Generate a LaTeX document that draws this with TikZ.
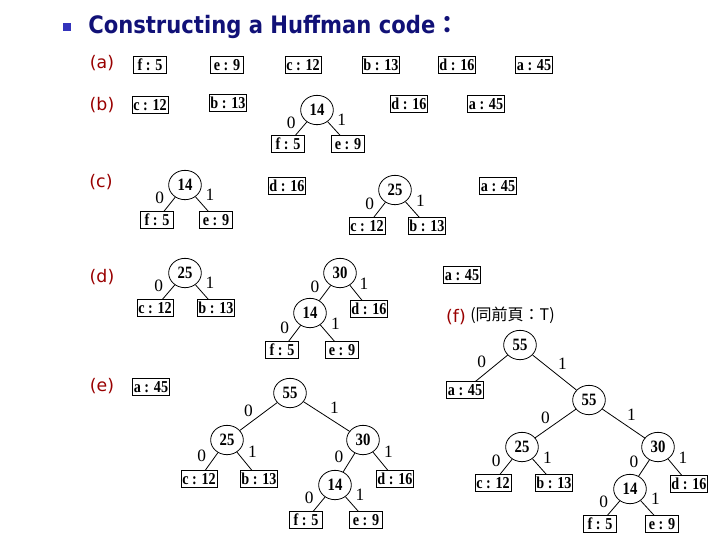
\documentclass[tikz,border=0pt]{standalone}
\usepackage{fontspec}
\setmainfont{Liberation Serif}
\newfontfamily\headfont[FakeStretch=0.88]{DejaVu Sans}
\newfontfamily\tagfont{DejaVu Sans}
\newfontfamily\cjkfont{Noto Sans CJK TC}
\newfontfamily\keyfont[FakeStretch=0.85]{Liberation Serif}
\usetikzlibrary{shapes.geometric}

\definecolor{titleblue}{RGB}{17,17,119}
\definecolor{bulletblue}{RGB}{51,51,187}
\definecolor{tagred}{RGB}{153,0,0}

\begin{document}
\begin{tikzpicture}[x=0.75pt, y=-0.75pt,
  freq/.style={draw, line width=0.6pt, minimum width=25pt, minimum height=12.5pt,
    inner xsep=1pt, inner ysep=1pt, font=\keyfont\bfseries\fontsize{12.5}{12.5}\selectfont},
  merged/.style={ellipse, draw, line width=0.6pt, minimum width=24.5pt,
    minimum height=22pt, inner sep=0pt, font=\keyfont\bfseries\fontsize{13}{13}\selectfont},
  branch/.style={line width=0.6pt},
  bit0/.style={midway, xshift=-7.5pt, yshift=4.5pt, inner sep=0pt,
    font=\fontsize{13}{13}\selectfont},
  bit1/.style={midway, xshift=6pt, yshift=6.75pt, inner sep=0pt,
    font=\fontsize{13}{13}\selectfont},
  parttag/.style={text=tagred, font=\tagfont\fontsize{13}{15}\selectfont}]
\useasboundingbox (0,0) rectangle (720,540);

% Heading
\fill[bulletblue] (63,23) rectangle (71,31);
\node[anchor=base west, inner sep=0pt, text=titleblue,
  font=\headfont\bfseries\fontsize{18}{20}\selectfont] (head) at (88,33)
  {Constructing a Huffman code{\cjkfont ：}};

% Step labels
\node[parttag] (tga) at (102,63) {(a)};
\node[parttag] (tgb) at (102,105) {(b)};
\node[parttag] (tgc) at (101,182) {(c)};
\node[parttag] (tgd) at (102,277) {(d)};
\node[parttag] (tge) at (102,386) {(e)};
\node[parttag] (tgf) at (456,317) {(f)};
\node[anchor=west, inner sep=0pt, font=\cjkfont\fontsize{12}{14}\selectfont]
  (tgfnote) at (470,315) {(同前頁：T)};

% (a) initial queue
\node[freq] (af) at (150,65) {f : 5};
\node[freq] (ae) at (227,65) {e : 9};
\node[freq] (ac) at (303,65) {c : 12};
\node[freq] (ab) at (381,65) {b : 13};
\node[freq] (ad) at (457,65) {d : 16};
\node[freq] (aa) at (534,65) {a : 45};

% (b)
\node[freq] (bc) at (150,105) {c : 12};
\node[freq] (bb) at (228,103) {b : 13};
\node[merged] (b14) at (317,110) {14};
\node[freq] (bf) at (288,144) {f : 5};
\node[freq] (be) at (348,144) {e : 9};
\node[freq] (bd) at (409,104) {d : 16};
\node[freq] (ba) at (486,104) {a : 45};
\draw[branch] (b14) -- node[bit0] {0} (bf);
\draw[branch] (b14) -- node[bit1] {1} (be);

% (c)
\node[merged] (c14) at (185,185) {14};
\node[freq] (cf) at (157,220) {f : 5};
\node[freq] (ce) at (216,220) {e : 9};
\node[freq] (cd) at (287,186) {d : 16};
\node[merged] (c25) at (395,190) {25};
\node[freq] (cc) at (367,226) {c : 12};
\node[freq] (cb) at (427,226) {b : 13};
\node[freq] (ca) at (498,186) {a : 45};
\draw[branch] (c14) -- node[bit0] {0} (cf);
\draw[branch] (c14) -- node[bit1] {1} (ce);
\draw[branch] (c25) -- node[bit0] {0} (cc);
\draw[branch] (c25) -- node[bit1] {1} (cb);

% (d)
\node[merged] (d25) at (185,273) {25};
\node[freq] (dc) at (155,308) {c : 12};
\node[freq] (db) at (216,308) {b : 13};
\node[merged] (d30) at (340,273) {30};
\node[merged] (d14) at (310,313) {14};
\node[freq] (dd) at (369,309) {d : 16};
\node[freq] (df) at (282,350) {f : 5};
\node[freq] (de) at (342,350) {e : 9};
\node[freq] (da) at (462,275) {a : 45};
\draw[branch] (d25) -- node[bit0] {0} (dc);
\draw[branch] (d25) -- node[bit1] {1} (db);
\draw[branch] (d30) -- node[bit0] {0} (d14);
\draw[branch] (d30) -- node[bit1] {1} (dd);
\draw[branch] (d14) -- node[bit0] {0} (df);
\draw[branch] (d14) -- node[bit1] {1} (de);

% (e)
\node[freq] (ea) at (151,387) {a : 45};
\node[merged] (e55) at (290,393) {55};
\node[merged] (e25) at (227,440) {25};
\node[freq] (ec) at (199,479) {c : 12};
\node[freq] (eb) at (259,479) {b : 13};
\node[merged] (e30) at (363,440) {30};
\node[merged] (e14) at (335,485) {14};
\node[freq] (ed) at (395,479) {d : 16};
\node[freq] (ef) at (306,520) {f : 5};
\node[freq] (ee) at (366,520) {e : 9};
\draw[branch] (e55) -- node[bit0] {0} (e25);
\draw[branch] (e55) -- node[bit1] {1} (e30);
\draw[branch] (e25) -- node[bit0] {0} (ec);
\draw[branch] (e25) -- node[bit1] {1} (eb);
\draw[branch] (e30) -- node[bit0] {0} (e14);
\draw[branch] (e30) -- node[bit1] {1} (ed);
\draw[branch] (e14) -- node[bit0] {0} (ef);
\draw[branch] (e14) -- node[bit1] {1} (ee);

% (f) final tree
\node[merged] (froot) at (520,345) {55};
\node[freq] (fa) at (465,390) {a : 45};
\node[merged] (f55) at (589,400) {55};
\node[merged] (f25) at (522,447) {25};
\node[freq] (fc) at (493,483) {c : 12};
\node[freq] (fb) at (554,483) {b : 13};
\node[merged] (f30) at (658,447) {30};
\node[merged] (f14) at (630,489) {14};
\node[freq] (fd) at (689,484) {d : 16};
\node[freq] (ff) at (600,524) {f : 5};
\node[freq] (fe) at (662,524) {e : 9};
\draw[branch] (froot) -- node[bit0] {0} (fa);
\draw[branch] (froot) -- node[bit1] {1} (f55);
\draw[branch] (f55) -- node[bit0] {0} (f25);
\draw[branch] (f55) -- node[bit1] {1} (f30);
\draw[branch] (f25) -- node[bit0] {0} (fc);
\draw[branch] (f25) -- node[bit1] {1} (fb);
\draw[branch] (f30) -- node[bit0] {0} (f14);
\draw[branch] (f30) -- node[bit1] {1} (fd);
\draw[branch] (f14) -- node[bit0] {0} (ff);
\draw[branch] (f14) -- node[bit1] {1} (fe);
\end{tikzpicture}
\end{document}
